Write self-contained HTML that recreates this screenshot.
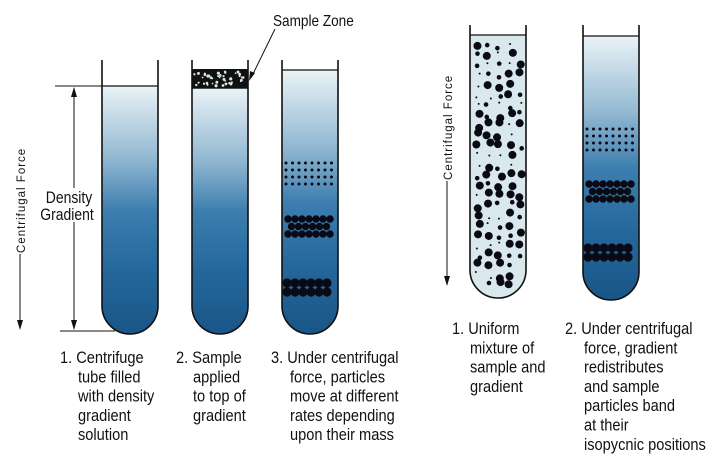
<!DOCTYPE html>
<html><head><meta charset="utf-8"><style>
html,body{margin:0;padding:0;background:#fff;width:720px;height:458px;overflow:hidden}
svg{display:block}
text{font-family:"Liberation Sans",sans-serif;fill:#111}
</style></head><body>
<svg id="s" width="720" height="458" viewBox="0 0 720 458" xmlns="http://www.w3.org/2000/svg">
<defs>
<linearGradient id="g1" x1="0" y1="0" x2="0" y2="1">
<stop offset="0" stop-color="#eaf3f7"/><stop offset="0.3" stop-color="#8fb6d0"/><stop offset="0.5" stop-color="#3d7eaf"/><stop offset="0.75" stop-color="#24679b"/><stop offset="1" stop-color="#1a5587"/>
</linearGradient>
</defs>
<g id="tubes" stroke="#111" stroke-width="1.6"></g>
<g id="dots" fill="#0a0a14"></g>

<text transform="translate(25,253) rotate(-90)" font-size="11.5" letter-spacing="1">Centrifugal Force</text>
<line x1="20" y1="254" x2="20" y2="328" stroke="#111" stroke-width="1"/>
<path d="M17,320 L20,330 L23,320 Z" fill="#111"/>
<line x1="55" y1="86" x2="102" y2="86" stroke="#111" stroke-width="1"/>
<line x1="60" y1="331" x2="115" y2="331" stroke="#111" stroke-width="1"/>
<line x1="74" y1="88" x2="74" y2="188" stroke="#111" stroke-width="1"/>
<line x1="74" y1="222" x2="74" y2="329" stroke="#111" stroke-width="1"/>
<path d="M71,97 L74,87 L77,97 Z" fill="#111"/>
<path d="M71,320 L74,330 L77,320 Z" fill="#111"/>
<g transform="translate(69,203) scale(0.82,1)"><text font-size="17" text-anchor="middle">Density</text></g>
<g transform="translate(67,220) scale(0.82,1)"><text font-size="17" text-anchor="middle">Gradient</text></g>

<g transform="translate(273,26) scale(0.85,1)"><text font-size="16">Sample Zone</text></g>
<line x1="275" y1="29" x2="252" y2="76" stroke="#111" stroke-width="1"/>
<path d="M249,81 L250,71 L255,73 Z" fill="#111"/>

<text transform="translate(452,180) rotate(-90)" font-size="11.5" letter-spacing="1">Centrifugal Force</text>
<line x1="447" y1="181" x2="447" y2="284" stroke="#111" stroke-width="1"/>
<path d="M444,276 L447,286 L450,276 Z" fill="#111"/>

<g id="caps" font-size="17"></g>
</svg>
<script>
var NS="http://www.w3.org/2000/svg";
function el(p,t,a){var e=document.createElementNS(NS,t);for(var k in a)e.setAttribute(k,a[k]);p.appendChild(e);return e;}
var T=document.getElementById('tubes'),D=document.getElementById('dots'),C=document.getElementById('caps');
function tube(x,top,liq,bot,fill){
  var w=56,r=28;
  el(T,'path',{d:'M'+x+','+liq+' L'+(x+w)+','+liq+' L'+(x+w)+','+(bot-r)+' A'+r+','+r+' 0 0 1 '+x+','+(bot-r)+' Z',fill:fill,stroke:'none'});
  el(T,'path',{d:'M'+x+','+top+' L'+x+','+(bot-r)+' A'+r+','+r+' 0 0 0 '+(x+w)+','+(bot-r)+' L'+(x+w)+','+top,fill:'none'});
  el(T,'line',{x1:x,y1:liq,x2:x+w,y2:liq,'stroke-width':1.2});
}
tube(102,60,86,334,'url(#g1)');
tube(192,60,88,334,'url(#g1)');
el(T,'rect',{x:192,y:69,width:56,height:19,fill:'#111',stroke:'none'});
el(T,'line',{x1:192,y1:88,x2:248,y2:88,'stroke-width':1.2});
tube(282,60,70,334,'url(#g1)');
tube(470,25,35,298,'#d8e8ec');
tube(583,25,36,300,'url(#g1)');
for(var i=0;i<40;i++){el(D,'circle',{cx:194+Math.random()*52,cy:71+Math.random()*15,r:0.8+Math.random()*0.8,fill:'#d8e8ec'});}
function band(x0,x1,y,rows,dy,dx,r,off){for(var j=0;j<rows;j++){var o=(off&&j%2)?dx/2:0;for(var x=x0+o;x<=x1;x+=dx)el(D,'circle',{cx:x,cy:y+j*dy,r:r});}}
band(286,335,163,4,7,6.5,1.5);
band(288,332,219,3,7.5,7,3.7,true);
band(287,334,283,2,9,8,4.6);
band(587,636,129,4,7,6.5,1.5);
band(589,633,184,3,7.5,7,3.7,true);
band(588,635,248,2,9,8,4.6);
var seed=7;function rnd(){seed=(seed*9301+49297)%233280;return seed/233280;}
function inside(cx,cy){if(cx<474||cx>522)return false;if(cy>270){var d=Math.abs(cx-498);return (cy-270)<Math.sqrt(Math.max(0,24*24-d*d))-2;}return cy>40;}
for(var y=42;y<296;y+=10){for(var k=0;k<5;k++){var cx=475+k*11+rnd()*5,cy=y+rnd()*7;if(!inside(cx,cy))continue;var q=rnd();var rr=q<0.5?4:(q<0.75?2.3:1);el(D,'circle',{cx:cx,cy:cy,r:rr});}}
function cap(x,xi,y,lines){for(var i=0;i<lines.length;i++){var g=el(C,'g',{transform:'translate('+(i==0?x:xi)+','+(y+i*19.3)+') scale(0.86,1)'});var t=el(g,'text',{});t.textContent=lines[i];}}
cap(60,78,363,['1. Centrifuge','tube filled','with density','gradient','solution']);
cap(176,193,363,['2. Sample','applied','to top of','gradient']);
cap(271,290,363,['3. Under centrifugal','force, particles','move at different','rates depending','upon their mass']);
cap(452,470,334,['1. Uniform','mixture of','sample and','gradient']);
cap(565,584,334,['2. Under centrifugal','force, gradient','redistributes','and sample','particles band','at their','isopycnic positions']);
</script>
</body></html>
